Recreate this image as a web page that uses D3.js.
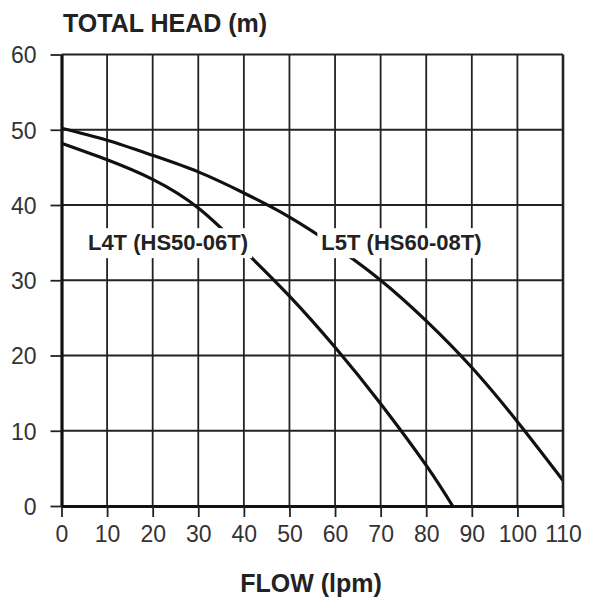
<!DOCTYPE html>
<html><head><meta charset="utf-8">
<script src="https://cdn.jsdelivr.net/npm/d3@7"></script>
<style>
html,body{margin:0;padding:0;background:#fff;}
svg text{font-family:"Liberation Sans",Arial,Helvetica,sans-serif;}
</style></head>
<body>
<svg id="chart" width="600" height="608"></svg>
<script>
const xTicks = [0,10,20,30,40,50,60,70,80,90,100,110];
const yTicks = [0,10,20,30,40,50,60];

const l5tFlow = [0,10,20,30,40,50,60,70,80,90,100,110];
const l5tHead = [50.2,48.6,46.6,44.4,41.6,38.4,34.5,30.0,24.6,18.4,11.2,3.4];

const l4tFlow = [0,10,20,30,40,50,60,70,80,85.8];
const l4tHead = [48.2,46.0,43.4,39.6,34.0,27.9,21.1,13.6,5.4,0];

const seriesNames = ["L4T (HS50-06T)","L5T (HS60-08T)"];
const labelAnchor = [[5.8,34.0],[57.0,34.0]];

const svg = d3.select("#chart");
const x = d3.scaleLinear().domain([0,110]).range([61.5,563]);
const y = d3.scaleLinear().domain([0,60]).range([506,54.5]);

// grid
const g = svg.append("g");
g.selectAll("line.v").data(xTicks.filter(d=>d>0&&d<110)).join("line")
 .attr("x1",d=>x(d)).attr("x2",d=>x(d)).attr("y1",y(0)).attr("y2",y(60))
 .attr("stroke","#222").attr("stroke-width",1.8);
g.selectAll("line.h").data(yTicks.filter(d=>d>0&&d<60)).join("line")
 .attr("x1",x(0)).attr("x2",x(110)).attr("y1",d=>y(d)).attr("y2",d=>y(d))
 .attr("stroke","#222").attr("stroke-width",1.8);

// curves
const line = d3.line().x(d=>x(d[0])).y(d=>y(d[1])).curve(d3.curveNatural);
[[l4tFlow,l4tHead],[l5tFlow,l5tHead]].forEach(([f,h])=>{
  svg.append("path").datum(f.map((v,i)=>[v,h[i]]))
    .attr("d",line).attr("fill","none").attr("stroke","#111").attr("stroke-width",3.2);
});

// labels with white knockout
seriesNames.forEach((name,i)=>{
  const t = svg.append("text").attr("x",x(labelAnchor[i][0])).attr("y",y(labelAnchor[i][1]))
    .attr("font-size",22).attr("font-weight","bold").attr("fill","#222").text(name);
  const bb = t.node().getBBox();
  svg.insert("rect", "text").attr("x",bb.x-4).attr("y",bb.y-2).attr("width",bb.width+8).attr("height",bb.height+5).attr("fill","#fff");
});

// frame
svg.append("line").attr("x1",x(0)).attr("x2",x(110)).attr("y1",y(60)).attr("y2",y(60)).attr("stroke","#222").attr("stroke-width",2.2);
svg.append("line").attr("x1",x(110)).attr("x2",x(110)).attr("y1",y(0)).attr("y2",y(60)).attr("stroke","#222").attr("stroke-width",2.6);

// axes
const xAxis = svg.append("g").attr("transform",`translate(0,${y(0)})`)
  .call(d3.axisBottom(x).tickValues(xTicks).tickSize(11).tickSizeOuter(0).tickPadding(9));
const yAxis = svg.append("g").attr("transform",`translate(${x(0)},0)`)
  .call(d3.axisLeft(y).tickValues(yTicks).tickSize(11).tickSizeOuter(0).tickPadding(14));
[xAxis,yAxis].forEach(a=>{
  a.select(".domain").attr("stroke","#111").attr("stroke-width",3.2);
  a.selectAll(".tick line").attr("stroke","#222").attr("stroke-width",1.8);
  a.selectAll(".tick text").attr("font-size",23).attr("fill","#333")
   .attr("font-family","'Liberation Sans',Arial,sans-serif");
});
yAxis.selectAll(".tick text").attr("dy","0.36em");

// titles
svg.append("text").attr("x",63).attr("y",32).attr("font-size",25).attr("font-weight","bold").attr("fill","#222").text("TOTAL HEAD (m)");
svg.append("text").attr("x",311).attr("y",592).attr("text-anchor","middle").attr("font-size",25).attr("font-weight","bold").attr("fill","#222").text("FLOW (lpm)");
</script>
</body></html>
